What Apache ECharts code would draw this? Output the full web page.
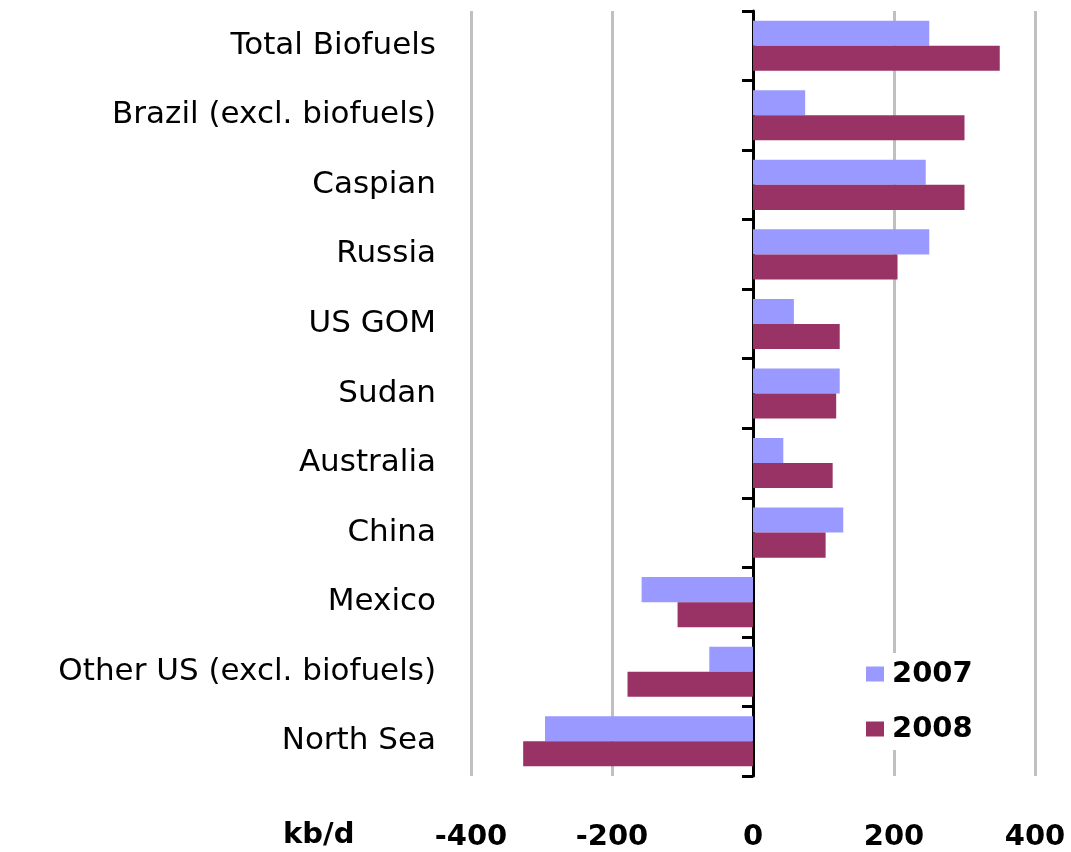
<!DOCTYPE html>
<html><head><meta charset="utf-8">
<script src="https://cdn.jsdelivr.net/npm/echarts@6/dist/echarts.min.js"></script>
<style>html,body{margin:0;padding:0;background:#fff}#c{width:1071px;height:852px}</style>
</head><body><div id="c"></div>
<script>
const categories = ['Total Biofuels','Brazil (excl. biofuels)','Caspian','Russia','US GOM','Sudan','Australia','China','Mexico','Other US (excl. biofuels)','North Sea'];
const values2007 = [250, 74, 245, 250, 58, 123, 43, 128, -158, -62, -295];
const values2008 = [350, 300, 300, 205, 123, 118, 113, 103, -107, -178, -326];
const xTicks = [-400, 400, 200];

const FONT = "'DejaVu Sans', 'Liberation Sans', Arial, sans-serif";
const chart = echarts.init(document.getElementById('c'));
chart.setOption({
  animation: false,
  textStyle: {fontFamily: FONT},
  grid: {left: 471, right: 36, top: 11, bottom: 76, containLabel: false, outerBoundsMode: 'none'},
  legend: {
    orient: 'vertical', left: 858, top: 653, itemWidth: 18, itemHeight: 15, itemGap: 25,
    icon: 'rect', backgroundColor: '#fff', padding: [6, 8, 6, 8],
    textStyle: {fontFamily: FONT, fontSize: 29, lineHeight: 30, fontWeight: 'bold', color: '#000', padding: [0,0,0,3]},
    data: ['2007', '2008']
  },
  xAxis: {
    type: 'value', min: xTicks[0], max: xTicks[1], interval: xTicks[2],
    axisLine: {show: false}, axisTick: {show: false},
    splitLine: {show: true, lineStyle: {color: '#C0C0C0', width: 3}},
    axisLabel: {fontFamily: FONT, fontSize: 29, fontWeight: 'bold', color: '#000', margin: 47}
  },
  yAxis: {
    type: 'category', data: categories, inverse: true,
    axisLine: {show: true, onZero: true, lineStyle: {color: '#000', width: 3}},
    axisTick: {show: true, length: 11, lineStyle: {color: '#000', width: 3}},
    axisLabel: {fontFamily: FONT, fontSize: 31, color: '#000', margin: 35}
  },
  graphic: [{type: 'text', left: 283, top: 821, style: {text: 'kb/d', font: "bold 29px 'DejaVu Sans', sans-serif", fill: '#000'}}],
  series: [
    {name: '2007', type: 'bar', data: values2007, barGap: '0%', barCategoryGap: '28%', itemStyle: {color: '#9999FF'}},
    {name: '2008', type: 'bar', data: values2008, barGap: '0%', barCategoryGap: '28%', itemStyle: {color: '#993366'}}
  ]
});
</script></body></html>
